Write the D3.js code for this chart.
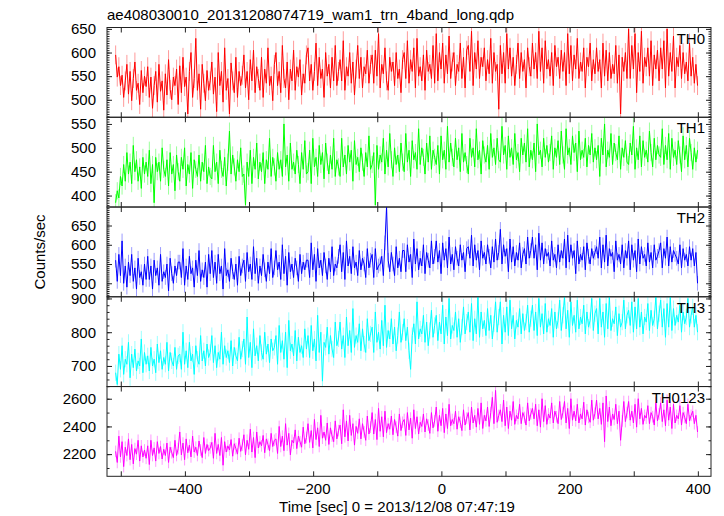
<!DOCTYPE html>
<html><head><meta charset="utf-8">
<script src="https://cdn.jsdelivr.net/npm/d3@7"></script>
<style>body{margin:0;background:#fff}svg{display:block}text{font-family:"Liberation Sans",Arial,Helvetica,sans-serif;fill:#000}</style>
</head><body><svg id="c" width="724" height="516"></svg>
<script>
const title = "ae408030010_20131208074719_wam1_trn_4band_long.qdp";
const xLabel = "Time [sec] 0 = 2013/12/08 07:47:19";
const yLabel = "Counts/sec";
const tStart = -508, tStep = 2.5;
const xTicksMajor = [-500,-400,-300,-200,-100,0,100,200,300,400];
const xTickLabels = [-400,-200,0,200,400];
const panelNames = ["TH0","TH1","TH2","TH3","TH0123"];
const panelColors = ["#ff0000","#00ff00","#0000ff","#00ffff","#ff00ff"];
const panelDomains = [[463,653],[376,564],[465,698],[639,905],[2040,2688]];
const panelErrors = [20,18,19,24,42];
const yTickLabels = [[500,550,600,650],[400,450,500,550],[500,550,600,650],[700,800,900],[2200,2400,2600]];
const yMinorStep = [5,5,5,20,100];

const th0 = [
595,548,570,530,552,505,540,575,512,560,498,545,580,520,535,490,562,515,550,528,
570,505,548,482,530,560,495,575,518,540,478,555,510,585,522,500,548,530,565,490,
572,515,590,528,548,470,560,600,505,545,630,520,555,480,575,535,498,562,520,540,
580,512,548,475,600,530,560,495,610,520,545,470,578,540,515,590,505,560,530,552,
595,525,560,500,585,540,605,515,570,545,520,590,505,565,535,610,530,550,498,575,
600,530,560,515,615,545,525,580,500,565,540,605,520,570,548,585,510,555,535,595,
610,540,575,520,560,620,530,590,545,565,505,600,550,575,525,590,540,615,530,560,
585,540,625,520,570,550,600,535,580,510,565,615,545,590,525,570,555,605,535,575,
595,535,605,550,640,525,575,555,610,540,520,590,560,580,530,600,545,565,515,585,
600,545,625,535,585,560,610,525,630,550,570,540,595,520,605,560,575,545,615,535,
640,540,600,565,620,535,595,555,635,545,580,600,530,575,560,620,545,590,525,605,
615,560,645,530,600,565,625,545,590,570,610,540,585,555,630,535,600,560,575,480,
615,555,600,535,640,565,610,550,590,530,575,620,545,600,560,585,525,610,570,550,
620,565,600,545,645,560,610,535,625,565,585,550,600,530,615,570,590,545,605,560,
600,530,640,555,615,540,595,565,630,545,580,560,610,525,590,570,620,540,585,555,
610,560,585,525,620,550,605,540,600,545,575,555,615,535,595,470,590,560,600,545,
650,545,615,565,640,515,600,560,645,535,590,570,610,550,625,530,595,565,605,540,
610,565,625,525,650,550,600,560,635,525,590,570,615,545,600,555,580,540,620,550,
590,535,575,530];
const th1 = [
385,410,395,440,420,465,430,490,445,470,425,505,450,475,430,460,415,480,445,470,
440,495,425,465,385,480,450,470,430,500,455,440,475,420,490,445,465,410,485,450,
430,480,455,500,420,465,445,490,415,475,455,440,485,430,470,450,505,425,460,440,
435,505,450,470,425,495,455,440,480,420,470,535,445,485,460,430,475,450,500,440,
445,380,470,440,495,425,480,455,510,435,470,450,490,425,475,455,520,440,480,460,
430,490,455,475,440,550,460,485,430,510,455,470,445,495,465,425,490,455,515,445,
450,495,425,520,460,480,440,505,465,490,435,510,470,445,485,455,520,440,475,460,
440,520,460,485,445,505,470,495,430,515,465,480,450,500,470,440,490,460,525,455,
465,490,380,505,455,485,470,520,445,495,460,530,475,440,500,465,485,450,510,470,
450,530,470,495,440,515,475,490,455,540,465,500,480,445,510,470,525,455,495,480,
465,505,445,525,475,495,455,545,470,510,480,460,520,475,500,450,530,470,490,465,
445,520,480,500,460,540,475,495,445,515,485,470,505,455,530,480,500,465,520,475,
470,545,485,505,455,525,480,500,465,530,475,490,450,520,485,510,470,540,460,495,
475,510,450,550,485,495,460,520,480,505,470,490,525,455,500,480,515,465,535,485,
455,540,485,500,465,525,490,510,450,535,475,495,480,520,460,505,485,530,470,500,
475,505,440,520,485,550,460,495,480,530,465,510,490,475,525,455,500,480,515,470,
465,510,485,545,455,500,475,525,460,515,480,495,470,535,490,460,520,475,505,485,
480,540,465,505,475,530,455,520,480,495,465,515,485,450,525,475,505,460,520,490,
455,500,470,495];
const th2 = [
560,505,575,520,610,500,545,490,555,520,575,505,540,485,565,515,530,495,550,510,
570,510,545,485,560,520,540,495,575,505,530,515,550,480,565,525,500,545,520,555,
555,515,590,495,545,510,570,525,540,490,560,520,585,505,535,515,555,490,575,525,
585,515,555,500,575,525,545,485,590,520,535,505,565,530,510,550,495,570,520,545,
560,505,580,530,550,510,595,525,565,500,545,520,575,535,505,555,525,590,515,540,
585,535,555,510,600,525,570,495,580,530,550,515,565,540,505,575,525,555,535,560,
560,515,605,535,575,505,590,540,560,520,580,545,510,565,530,595,520,550,540,570,
600,530,580,510,610,545,570,525,595,540,555,520,585,535,565,550,515,590,540,560,
575,515,590,535,545,550,570,520,605,698,560,530,580,550,520,595,540,565,530,585,
585,530,600,555,575,515,615,550,590,535,565,545,600,525,580,560,540,610,550,570,
610,555,585,525,605,560,590,540,620,550,575,535,595,565,545,600,560,580,530,590,
595,565,625,545,600,560,585,535,610,565,580,550,600,570,540,595,555,615,560,580,
640,550,600,570,590,530,615,555,595,545,580,560,605,540,575,590,550,620,565,585,
620,565,600,535,630,560,605,550,590,570,580,545,610,560,575,540,600,555,585,565,
615,540,625,555,600,565,585,525,610,550,575,560,595,535,605,570,550,590,565,580,
595,565,620,540,600,555,625,545,590,570,580,530,610,560,575,550,600,540,585,565,
610,535,600,560,585,530,615,550,595,565,575,545,605,555,580,540,600,560,570,585,
605,540,590,565,620,545,595,555,585,575,565,550,600,540,590,560,575,545,595,560,
590,545,580,500];
const th3 = [
680,645,735,690,760,675,720,705,770,665,735,695,750,685,715,700,780,680,740,705,
730,685,755,700,720,680,765,710,745,690,725,705,770,685,740,715,700,755,690,730,
735,690,800,705,745,695,770,715,735,675,760,720,705,790,715,745,700,765,725,740,
790,710,760,695,740,720,800,705,760,725,745,710,775,700,755,730,715,785,720,750,
780,705,845,725,770,695,810,730,760,715,790,740,720,800,735,765,710,780,745,755,
790,705,820,740,775,720,800,695,835,745,765,730,805,715,785,740,760,725,810,750,
790,725,820,745,780,715,850,740,800,655,770,755,815,735,790,750,725,830,760,780,
830,750,790,725,845,760,805,740,870,755,790,770,825,745,810,765,740,840,775,795,
815,740,860,770,800,750,835,760,880,755,805,780,840,765,815,745,790,860,770,800,
840,775,815,745,690,790,825,765,890,780,810,795,850,770,830,760,805,865,785,820,
850,775,830,795,880,765,845,790,900,780,820,805,860,785,840,770,815,875,795,830,
860,800,885,775,840,795,905,785,860,810,835,790,870,805,850,780,825,890,800,845,
890,765,850,800,875,790,895,810,850,780,835,815,870,795,855,805,830,880,800,840,
880,805,860,790,900,815,855,795,885,800,840,820,870,785,860,810,835,895,805,850,
905,810,865,785,890,820,850,800,895,810,845,825,880,795,860,815,835,900,805,855,
870,795,900,815,860,785,885,810,905,805,840,825,875,790,855,815,830,895,810,850,
865,820,890,800,875,810,900,815,860,795,845,830,885,805,865,820,840,905,810,855,
895,815,870,785,885,815,905,805,870,820,850,830,880,800,860,825,845,900,815,850,
875,815,850,800];
const th0123 = [
2220,2140,2330,2180,2290,2110,2250,2190,2310,2160,2270,2130,2240,2200,2300,2150,2260,2180,2230,2170,
2260,2125,2300,2190,2245,2150,2290,2205,2255,2165,2235,2190,2280,2140,2250,2210,2175,2300,2190,2240,
2360,2195,2280,2160,2310,2210,2265,2180,2330,2215,2250,2190,2295,2230,2175,2320,2205,2270,2225,2245,
2285,2170,2350,2205,2270,2190,2320,2120,2290,2215,2260,2230,2305,2185,2275,2240,2200,2315,2220,2265,
2340,2195,2300,2235,2380,2215,2320,2175,2360,2245,2290,2260,2335,2210,2310,2270,2225,2350,2255,2300,
2310,2205,2400,2255,2330,2225,2420,2265,2350,2195,2300,2280,2375,2240,2330,2290,2250,2395,2275,2320,
2420,2285,2370,2245,2450,2305,2390,2255,2480,2315,2360,2300,2425,2270,2390,2330,2290,2440,2310,2370,
2410,2275,2520,2325,2440,2295,2480,2335,2420,2265,2400,2350,2455,2310,2420,2360,2300,2475,2345,2395,
2500,2345,2450,2305,2530,2365,2470,2325,2510,2355,2420,2380,2475,2340,2450,2395,2330,2490,2370,2430,
2450,2335,2500,2375,2460,2315,2520,2385,2470,2345,2430,2400,2490,2360,2455,2410,2350,2500,2390,2440,
2540,2365,2480,2405,2530,2355,2490,2385,2560,2405,2450,2420,2510,2380,2470,2430,2370,2520,2410,2460,
2500,2375,2540,2425,2480,2395,2530,2415,2570,2385,2480,2440,2540,2400,2500,2610,2420,2660,2430,2480,
2520,2435,2590,2405,2540,2385,2510,2445,2580,2415,2480,2455,2560,2420,2500,2465,2410,2570,2440,2490,
2530,2455,2560,2405,2520,2395,2600,2435,2550,2415,2490,2460,2570,2425,2510,2470,2420,2580,2450,2500,
2580,2425,2530,2385,2600,2445,2510,2440,2560,2425,2490,2455,2575,2410,2520,2465,2430,2590,2445,2495,
2590,2455,2530,2415,2570,2290,2620,2435,2540,2405,2490,2450,2560,2420,2510,2300,2440,2580,2435,2500,
2580,2445,2510,2425,2560,2395,2600,2455,2530,2415,2480,2460,2550,2420,2500,2470,2410,2570,2440,2490,
2570,2435,2520,2405,2590,2445,2540,2385,2560,2425,2480,2455,2550,2410,2500,2465,2420,2560,2440,2480,
2510,2420,2480,2360];
const seriesList = [th0, th1, th2, th3, th0123];

const svg = d3.select("#c");
const L = 107, R = 711, T = 27.5, B = 476.3;
const ph = (B - T) / 5;
const x = d3.scaleLinear().domain([-521.5, 420.5]).range([L, R]);
const frame = "#222";
const fontStack = '"Liberation Sans",Arial,Helvetica,sans-serif';

svg.append("text").attr("x", 107).attr("y", 19.5).attr("font-size", 15).text(title);

seriesList.forEach((vals, p) => {
  const top = T + p * ph, bot = top + ph;
  const y = d3.scaleLinear().domain(panelDomains[p]).range([bot, top]);
  const cid = "clip" + p;
  svg.append("clipPath").attr("id", cid).append("rect").attr("x", L).attr("y", top).attr("width", R - L).attr("height", ph);
  const g = svg.append("g").attr("clip-path", `url(#${cid})`);
  const err = panelErrors[p];
  g.append("g").selectAll("line").data(vals).join("line")
    .attr("x1", (d, i) => x(tStart + i * tStep)).attr("x2", (d, i) => x(tStart + i * tStep))
    .attr("y1", d => y(d - err)).attr("y2", d => y(d + err))
    .attr("stroke", panelColors[p]).attr("stroke-opacity", 0.4).attr("stroke-width", 1);
  const line = d3.line().x((d, i) => x(tStart + i * tStep)).y(d => y(d));
  g.append("path").datum(vals)
    .attr("fill", "none").attr("stroke", panelColors[p]).attr("stroke-width", 1).attr("d", line);

  const [d0, d1] = panelDomains[p];
  const minor = d3.range(Math.ceil(d0 / yMinorStep[p]) * yMinorStep[p], d1 + 0.001, yMinorStep[p]);
  const ya = (axis, tx, vals2, size, labels) => {
    const a = svg.append("g").attr("transform", `translate(${tx},0)`)
      .call(axis(y).tickValues(vals2).tickSize(size).tickPadding(11).tickFormat(labels ? d3.format("d") : ""));
    a.select(".domain").remove();
    a.selectAll("line").attr("stroke", frame);
    a.selectAll("text").attr("font-size", 15).attr("fill", "#000").style("font-family", fontStack);
    return a;
  };
  ya(d3.axisLeft, L, minor, -2.5, false);
  ya(d3.axisRight, R, minor, -2.5, false);
  ya(d3.axisLeft, L, yTickLabels[p], -5, true);
  ya(d3.axisRight, R, yTickLabels[p], -5, false);

  const xa = (axis, ty, labels) => {
    const a = svg.append("g").attr("transform", `translate(0,${ty})`)
      .call(axis(x).tickValues(labels ? xTickLabels : xTicksMajor).tickSize(-5).tickPadding(7));
    a.select(".domain").remove();
    a.selectAll("line").attr("stroke", labels ? "none" : frame);
    if (!labels) a.selectAll("text").remove();
    else a.selectAll("text").attr("font-size", 15).attr("fill", "#000").style("font-family", fontStack);
  };
  xa(d3.axisTop, top, false);
  xa(d3.axisBottom, bot, false);
  if (p === 4) xa(d3.axisBottom, bot, true);

  svg.append("rect").attr("x", L).attr("y", top).attr("width", R - L).attr("height", ph)
    .attr("fill", "none").attr("stroke", frame).attr("stroke-width", 1);

  svg.append("text").attr("x", 705).attr("y", top + 16).attr("text-anchor", "end").attr("font-size", 15).text(panelNames[p]);
});

svg.append("text").attr("x", 397).attr("y", 512).attr("text-anchor", "middle").attr("font-size", 15).text(xLabel);
svg.append("text").attr("transform", "translate(45,252) rotate(-90)").attr("text-anchor", "middle").attr("font-size", 15).text(yLabel);
</script></body></html>
